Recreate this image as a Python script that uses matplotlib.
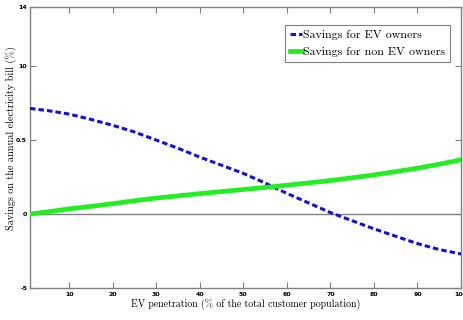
import matplotlib
matplotlib.use("Agg")
import matplotlib.pyplot as plt

x_pts = [1, 5, 10, 15, 20, 25, 30, 35, 40, 45, 50, 55, 60, 65, 70, 75, 80, 85, 90, 95, 100]
ev_owners = [0.714, 0.70, 0.676, 0.64, 0.60, 0.555, 0.50, 0.445, 0.385, 0.33, 0.275,
             0.21, 0.14, 0.075, 0.01, -0.045, -0.10, -0.15, -0.20, -0.24, -0.27]
non_ev_owners = [0.0, 0.015, 0.035, 0.052, 0.07, 0.09, 0.108, 0.123, 0.138, 0.152, 0.166,
                 0.18, 0.195, 0.21, 0.227, 0.245, 0.265, 0.287, 0.31, 0.337, 0.367]

x_ticks = [10, 20, 30, 40, 50, 60, 70, 80, 90, 100]
y_ticks = [-0.5, 0, 0.5, 1.0, 1.4]
y_tick_labels = ['-5', '0', '0.5', '10', '14']

SERIF = ['cmr10', 'DejaVu Serif']

fig = plt.figure(figsize=(4.64, 3.2), dpi=100)
ax = fig.add_axes([30/464, 1-288/320, (461-30)/464, (288-7)/320])

ax.axhline(0, color='#808080', lw=1.0, zorder=1)
ax.plot(x_pts, ev_owners, color='#1010e0', lw=2.2, linestyle=(0, (1.8, 1.0)),
        label='Savings for EV owners', zorder=3)
ax.plot(x_pts, non_ev_owners, color='#22ee22', lw=3.4, linestyle='-',
        label='Savings for non EV owners', zorder=3)

ax.set_xlim(1, 100)
ax.set_ylim(-0.5, 1.4)
ax.set_xticks(x_ticks)
ax.set_xticklabels([str(t) for t in x_ticks])
ax.set_yticks(y_ticks)
ax.set_yticklabels(y_tick_labels)

for s in ax.spines.values():
    s.set_color('#808080')
    s.set_linewidth(1.0)
ax.tick_params(direction='in', length=4, width=0.8, color='#808080',
               top=True, right=True, labelsize=4.5, pad=3)
ax.tick_params(axis='y', pad=2)
for lbl in ax.get_xticklabels() + ax.get_yticklabels():
    lbl.set_fontweight('bold')

ax.set_xlabel('EV penetration (% of the total customer population)',
              fontfamily=SERIF, fontsize=7.1, labelpad=1)
ax.set_ylabel('Savings on the annual electricity bill (%)',
              fontfamily=SERIF, fontsize=7.3)
ax.yaxis.set_label_coords(-0.031, 0.534)

leg = ax.legend(loc='upper right', bbox_to_anchor=(0.975, 0.935),
                prop={'family': SERIF, 'size': 8.6},
                fancybox=False, edgecolor='#808080', framealpha=1,
                handlelength=1.0, handletextpad=0.15, borderpad=0.4,
                labelspacing=0.55, borderaxespad=0)
leg.get_frame().set_linewidth(0.8)

fig.savefig('out.png', dpi=100)
